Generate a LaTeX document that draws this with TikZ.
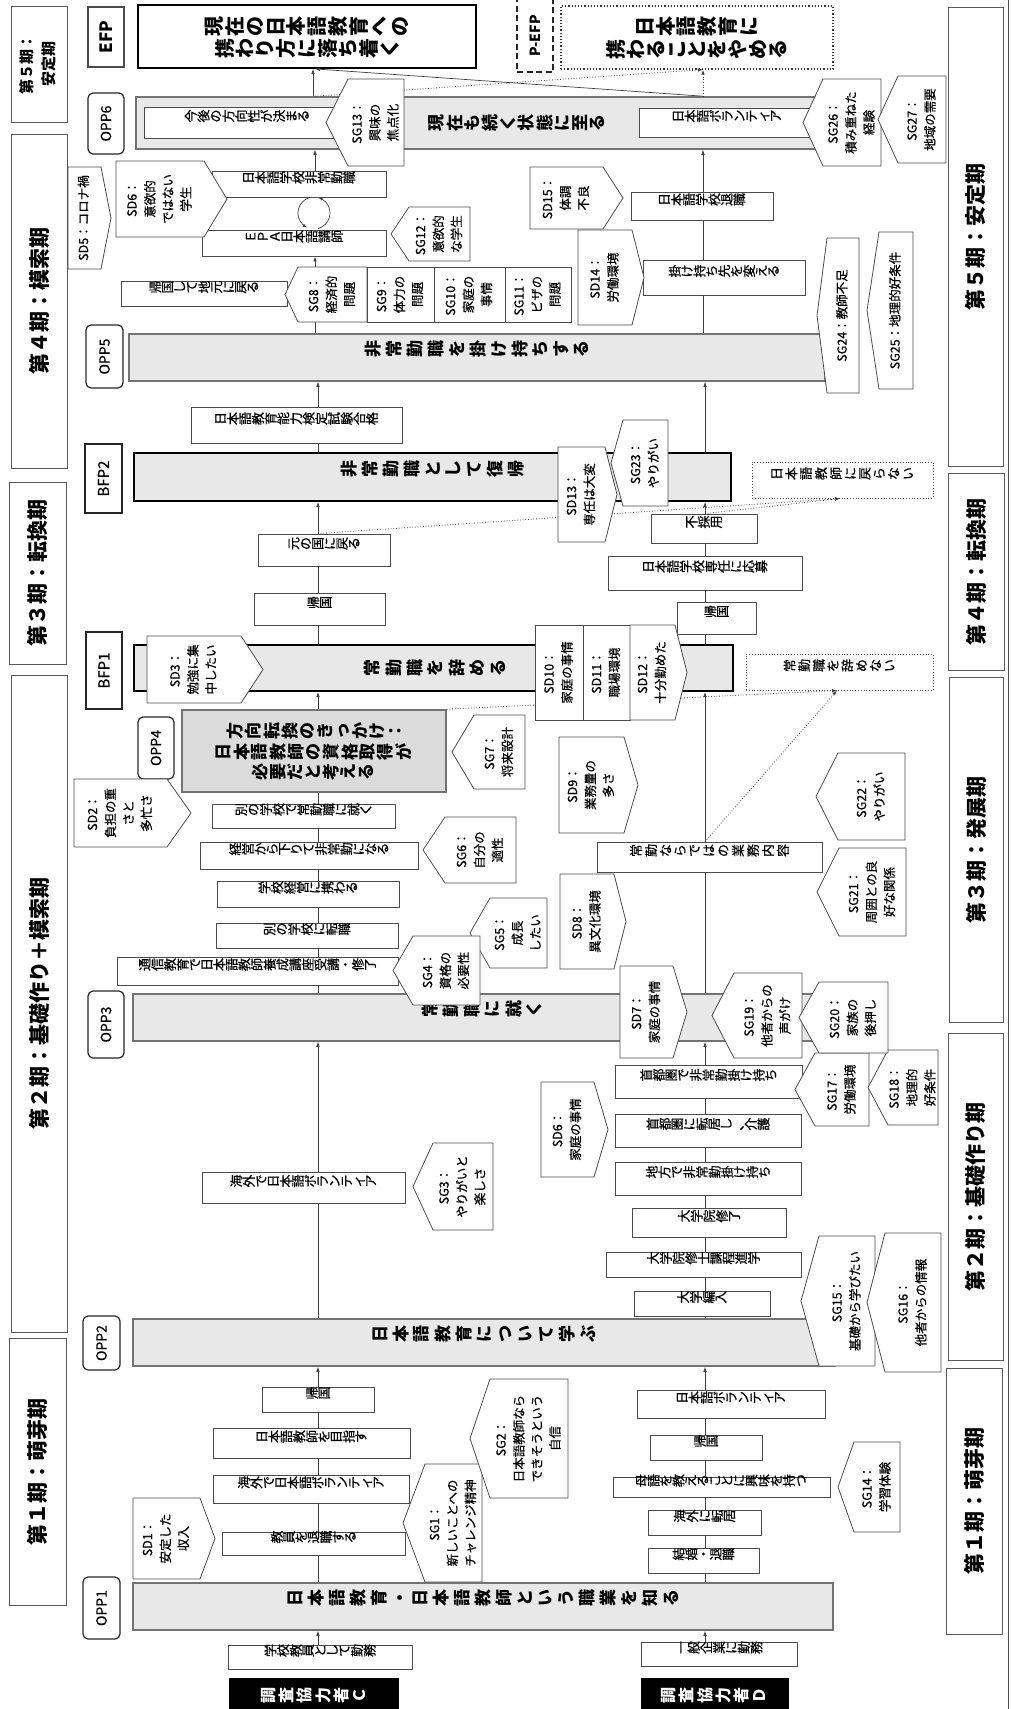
\documentclass[tikz,border=0pt]{standalone}
\usepackage{graphicx}
\usepackage{fontspec}
\setmainfont{Noto Sans CJK JP}
\newfontfamily\medfont{Noto Sans CJK JP}[FakeBold=0.5]
\usetikzlibrary{arrows.meta,fit}
\newcommand\fs[2]{\fontsize{#1}{#2}\selectfont}
\newlength\tgsp
\makeatletter
\newcommand\tgc[1]{\rotatebox{90}{\makebox[1em][c]{\vphantom{国}#1}}}
\newcommand\tg[2][0.7pt]{\setlength\tgsp{#1}\tg@first#2\@nil}
\def\tg@first#1{\tgc{#1}\tg@loop}
\def\tg@loop#1{\ifx#1\@nil\else\hspace{\tgsp}\tgc{#1}\expandafter\tg@loop\fi}
\makeatother
\newcommand\rt[1]{\rotatebox{90}{\begin{tabular}{@{}c@{}}#1\end{tabular}}}
\tikzset{
 per/.style={draw=black!65, line width=1pt, fill=white, inner sep=0pt},
 pertext/.style={rotate=90, font=\fs{21}{21}\bfseries, inner sep=0pt},
 lab/.style={draw=black!85, line width=1.2pt, rounded corners=5pt, fill=white, inner sep=0pt},
 labsq/.style={draw=black!85, line width=1.4pt, fill=white, inner sep=0pt},
 labtext/.style={rotate=90, font=\fs{14}{14}\medfont, inner sep=0pt},
 bar/.style={draw=black!55, line width=1.6pt, fill=black!9, inner sep=0pt, font=\fs{17}{17}\bfseries},
 bfp/.style={bar, draw=black, line width=1.8pt},
 box/.style={draw=black!70, line width=0.8pt, fill=white, inner sep=0pt, font=\fs{13}{13}\medfont},
 dbox/.style={box, dotted, line width=1pt},
 part/.style={fill=black, draw=black, inner sep=0pt},
 pent/.style={draw=black!70, line width=0.8pt, fill=white},
 ptext/.style={font=\fs{12.5}{18}\medfont, inner sep=0pt},
 rowtext/.style={inner sep=0pt},
 conn/.style={draw=black!75, line width=0.7pt},
 arr/.style={conn, -{Latex[length=5pt,width=3.6pt]}},
 darr/.style={arr, dotted, line width=0.9pt},
}
\newcommand\pentE[7]{%
  \draw[pent] (#2,#3) -- ({#4-#6},#3) -- (#4,{(#3+#5)/2}) -- ({#4-#6},#5) -- (#2,#5) -- cycle;
  \node[ptext] (#1) at ({(#2+#4-#6)/2},{(#3+#5)/2}) {\rt{#7}};}
\newcommand\pentW[7]{%
  \draw[pent] (#2,{(#3+#5)/2}) -- ({#2+#6},#3) -- (#4,#3) -- (#4,#5) -- ({#2+#6},#5) -- cycle;
  \node[ptext] (#1) at ({(#2+#6+#4)/2},{(#3+#5)/2}) {\rt{#7}};}
\newcommand\rectT[6]{%
  \node[box, fit={(#2,#3)(#4,#5)}] (#1) {};
  \node[ptext] (#1t) at (#1) {\rt{#6}};}
\begin{document}
\begin{tikzpicture}[x=1pt,y=-1pt]
\useasboundingbox (0,0) rectangle (1010,1709);
\draw[black!70, line width=1pt] (1008.5,0) -- (1008.5,1709);

% ---------- period boxes ----------
\node[per, fit={(11,6)(67,122)}] (l5) {};
\node[font=\fs{15}{22}\bfseries, inner sep=0pt] (l5t) at (l5) {\rt{第５期：\\安定期}};
\node[per, fit={(11,134)(67,468)}] (l4) {};
\node[pertext] (l4t) at (l4) {第４期：模索期};
\node[per, fit={(9,482)(66,664)}] (l3) {};
\node[pertext] (l3t) at (l3) {第３期：転換期};
\node[per, fit={(11,675)(67,1332)}] (l2) {};
\node[pertext] (l2t) at (l2) {第２期：基礎作り＋模索期};
\node[per, fit={(9,1338)(66,1605)}] (l1) {};
\node[pertext] (l1t) at (l1) {第１期：萌芽期};
\node[per, fit={(948,7)(1003,466)}] (r5) {};
\node[pertext] (r5t) at (r5) {第５期：安定期};
\node[per, fit={(948,473)(1004,670)}] (r4) {};
\node[pertext] (r4t) at (r4) {第４期：転換期};
\node[per, fit={(949,677)(1003,1022)}] (r3) {};
\node[pertext] (r3t) at (r3) {第３期：発展期};
\node[per, fit={(948,1033)(1003,1360)}] (r2) {};
\node[pertext] (r2t) at (r2) {第２期：基礎作り期};
\node[per, fit={(946,1368)(1002,1634)}] (r1) {};
\node[pertext] (r1t) at (r1) {第１期：萌芽期};

% ---------- participant labels ----------
\node[part, fit={(229,1678)(398,1712)}] (pc) {};
\node[text=white, font=\fs{16}{16}\bfseries, inner sep=0pt] (pct) at (314,1695) {\tg[3pt]{調査協力者Ｃ}};
\node[part, fit={(641,1678)(788,1712)}] (pd) {};
\node[text=white, font=\fs{16}{16}\bfseries, inner sep=0pt] (pdt) at (714,1695) {\tg[3pt]{調査協力者Ｄ}};

% ---------- OPP labels ----------
\node[labsq, line width=1.6pt, draw=black!70, fit={(88,7)(124,67)}] (efpl) {};
\node[labtext, font=\fs{17}{17}\bfseries] (efplt) at (efpl) {EFP};
\node[labsq, dash pattern=on 6pt off 3.5pt, line width=1.2pt, fit={(517,-6)(553,72)}] (pefpl) {};
\node[labtext, font=\fs{14}{14}\bfseries] (pefplt) at (535,36) {P-EFP};
\node[lab, fit={(88,93)(124,154)}] (o6l) {};
\node[labtext] (o6lt) at (o6l) {OPP6};
\node[lab, fit={(86,325)(123,388)}] (o5l) {};
\node[labtext] (o5lt) at (o5l) {OPP5};
\node[labsq, fit={(85,444)(122,513)}] (b2l) {};
\node[labtext, font=\fs{15}{15}\medfont] (b2lt) at (b2l) {BFP2};
\node[labsq, fit={(86,632)(122,709)}] (b1l) {};
\node[labtext, font=\fs{15}{15}\medfont] (b1lt) at (b1l) {BFP1};
\node[lab, fit={(138,717)(174,779)}] (o4l) {};
\node[labtext] (o4lt) at (o4l) {OPP4};
\node[lab, fit={(88,991)(124,1058)}] (o3l) {};
\node[labtext] (o3lt) at (o3l) {OPP3};
\node[lab, fit={(83,1316)(120,1370)}] (o2l) {};
\node[labtext] (o2lt) at (o2l) {OPP2};
\node[lab, fit={(83,1577)(120,1639)}] (o1l) {};
\node[labtext] (o1lt) at (o1l) {OPP1};

% ---------- end points ----------
\node[draw=black, line width=1.8pt, fill=white, inner sep=0pt, fit={(138,5)(476,68)}] (efp) {};
\node[rowtext, font=\fs{20}{20}\bfseries] (efpr1) at (307,26) {\tg[2pt]{現在の日本語教育への}};
\node[rowtext, font=\fs{20}{20}\bfseries] (efpr2) at (307,48) {\tg[2pt]{携わり方に落ち着く}};
\node[draw=black!80, dotted, line width=1.2pt, fill=white, inner sep=0pt, fit={(561,6)(833,69)}] (pefp) {};
\node[rowtext, font=\fs{20}{20}\bfseries] (pefpr1) at (697,26) {\tg[2pt]{日本語教育に}};
\node[rowtext, font=\fs{20}{20}\bfseries] (pefpr2) at (697,49) {\tg[2pt]{携わることをやめる}};

% ---------- bars ----------
\node[bar, fit={(136,97)(815,149)}] (opp6) {};
\node[bar, fit={(129,334)(825,381)}] (opp5) {\tg[5pt]{非常勤職を掛け持ちする}};
\node[bfp, fit={(134,453)(731,501)}] (bfp2) {\tg[5pt]{非常勤職として復帰}};
\node[bfp, fit={(134,645)(733,691)}] (bfp1) {};
\node[bar, fill=black!14, fit={(182,710)(446,792)}] (opp4) {};
\node[rowtext, font=\fs{17}{17}\bfseries] (opp4r1) at (315,731) {\tg[2pt]{方向転換のきっかけ：}};
\node[rowtext, font=\fs{17}{17}\bfseries] (opp4r2) at (314,752) {\tg[2pt]{日本語教師の資格取得が}};
\node[rowtext, font=\fs{17}{17}\bfseries] (opp4r3) at (313,772) {\tg[2pt]{必要だと考える}};
\node[bar, fit={(133,994)(831,1041)}] (opp3) {\tg[5pt]{常勤職に就く}};
\node[bar, fit={(133,1319)(835,1366)}] (opp2) {\tg[5pt]{日本語教育について学ぶ}};
\node[bar, fit={(133,1583)(833,1630)}] (opp1) {\tg[5pt]{日本語教育・日本語教師という職業を知る}};
\node[rowtext, font=\fs{17}{17}\bfseries] (opp6t) at (517,123) {\tg[2pt]{現在も続く状態に至る}};
\node[rowtext, font=\fs{17}{17}\bfseries] (bfp1t) at (435,668) {\tg[5pt]{常勤職を辞める}};

% ---------- connector x positions ----------
\coordinate (cx) at (318,0);
\coordinate (cu) at (315,0);
\coordinate (ce) at (313,0);
\coordinate (dx) at (705,0);
\coordinate (du) at (703,0);
\coordinate (tx1) at (837,0);
\coordinate (tx2) at (840,0);

% ---------- boxes (C) ----------
\node[box, fit={(228,1645)(412,1669)}] (c0) {\tg{学校教員として勤務}};
\node[box, fit={(222,1532)(405,1555)}] (c1) {\tg{教員を退職する}};
\node[box, fit={(213,1475)(409,1503)}] (c2) {\tg{海外で日本語ボランティア}};
\node[box, fit={(213,1428)(410,1458)}] (c3) {\tg{日本語教師を目指す}};
\node[box, fit={(262,1387)(374,1412)}] (c4) {\tg{帰国}};
\node[box, fit={(202,1172)(405,1203)}] (c5) {\tg{海外で日本語ボランティア}};
\node[box, fit={(117,957)(398,985)}] (c6) {\tg{通信教育で日本語教師養成講座受講・修了}};
\node[box, fit={(216,923)(398,948)}] (c7) {\tg{別の学校に転職}};
\node[box, fit={(217,881)(399,907)}] (c8) {\tg{学校経営に携わる}};
\node[box, fit={(200,842)(418,869)}] (c9) {\tg{経営から下りて非常勤になる}};
\node[box, fit={(212,804)(395,828)}] (c10) {\tg{別の学校で常勤職に就く}};
\node[box, fit={(254,593)(385,625)}] (c11) {\tg{帰国}};
\node[box, fit={(258,534)(390,566)}] (c12) {\tg{元の国に戻る}};
\node[box, fit={(191,407)(402,443)}] (c13) {\tg{日本語教育能力検定試験合格}};
\node[box, fit={(121,281)(287,306)}] (c14) {\tg{帰国して地元に戻る}};
\node[box, fit={(202,230)(386,256)}] (c15) {\tg{ＥＰＡ日本語講師}};
\node[box, fit={(212,171)(386,197)}] (c16) {\tg{日本語学校非常勤職}};
\node[box, fit={(144,107)(350,138)}] (c17) {\tg{今後の方向性が決まる}};

% ---------- boxes (D) ----------
\node[box, fit={(641,1642)(797,1666)}] (d0) {\tg{一般企業に勤務}};
\node[box, fit={(648,1548)(759,1573)}] (d1) {\tg{結婚・退職}};
\node[box, fit={(648,1510)(761,1535)}] (d2) {\tg{海外に転居}};
\node[box, fit={(613,1477)(830,1497)}] (d3) {\tg{母語を教えることに興味を持つ}};
\node[box, fit={(650,1435)(762,1460)}] (d4) {\tg{帰国}};
\node[box, fit={(637,1390)(825,1418)}] (d5) {\tg{日本語ボランティア}};
\node[box, fit={(634,1291)(770,1316)}] (d6) {\tg{大学編入}};
\node[box, fit={(606,1252)(801,1277)}] (d7) {\tg{大学院修士課程進学}};
\node[box, fit={(632,1208)(786,1237)}] (d8) {\tg{大学院修了}};
\node[box, fit={(615,1162)(801,1195)}] (d9) {\tg{地方で非常勤掛け持ち}};
\node[box, fit={(615,1114)(801,1147)}] (d10) {\tg{首都圏に転居し、介護}};
\node[box, fit={(615,1065)(802,1098)}] (d11) {\tg{首都圏で非常勤掛け持ち}};
\node[box, fit={(597,842)(822,872)}] (d12) {\tg[3pt]{常勤ならではの業務内容}};
\node[dbox, fit={(746,654)(933,690)}] (d13) {\tg[2.6pt]{常勤職を辞めない}};
\node[box, fit={(677,602)(756,634)}] (d14) {\tg{帰国}};
\node[box, fit={(608,556)(802,590)}] (d15) {\tg{日本語学校専任に応募}};
\node[box, fit={(651,514)(757,543)}] (d16) {\tg{不採用}};
\node[dbox, fit={(752,462)(933,498)}] (d17) {\tg[3pt]{日本語教師に戻らない}};
\node[box, fit={(643,260)(805,295)}] (d18) {\tg{掛け持ち先を変える}};
\node[box, fit={(631,192)(773,220)}] (d19) {\tg{日本語学校退職}};
\node[box, fit={(639,108)(815,137)}] (d20) {\tg{日本語ボランティア}};

% ---------- connectors ----------
\draw[arr] (c0.north -| cx) -- (opp1.south -| cx);
\foreach \a/\b in {opp1/c1, c1/c2, c2/c3, c3/c4, opp2/c5, opp3/c6, c6/c7, c7/c8, c8/c9, c9/c10, c10/opp4, bfp1/c11, c11/c12, bfp2/c13}
  \draw[conn] (\a.north -| cx) -- (\b.south -| cx);
\foreach \a/\b in {c4/opp2, c5/opp3, opp4/bfp1, c12/bfp2, c13/opp5}
  \draw[arr] (\a.north -| cx) -- (\b.south -| cx);
\draw[arr] (opp5.north -| cu) -- (c15.south -| cu);
\draw[arr] (c16.north -| cu) -- (opp6.south -| cu);
\draw[arr] (d0.north -| dx) -- (opp1.south -| dx);
\foreach \a/\b in {opp1/d1, d1/d2, d2/d3, d3/d4, d4/d5, opp2/d6, d6/d7, d7/d8, d8/d9, d9/d10, d10/d11, opp3/d12, bfp1/d14, d14/d15, d15/d16}
  \draw[conn] (\a.north -| dx) -- (\b.south -| dx);
\foreach \a/\b in {d5/opp2, d11/opp3, d12/bfp1, d16/bfp2, bfp2/opp5}
  \draw[arr] (\a.north -| dx) -- (\b.south -| dx);
\foreach \a/\b in {opp5/d18, d18/d19}
  \draw[conn] (\a.north -| du) -- (\b.south -| du);
\draw[arr] (d19.north -| du) -- (opp6.south -| du);
\draw[arr] (opp6.north -| ce) -- (efp.south -| ce);
\draw[arr] (opp6.north -| du) -- (efp.south -| cu);
\draw[darr] (opp6.north -| cu) -- (pefp.south -| du);
\draw[darr] (opp6.north -| du) -- (pefp.south -| du);
\draw[darr] (opp4.north east) -- (d13.south -| tx1);
\draw[darr] (d12.north -| dx) -- (d13.south -| tx1);
\draw[darr] (c12.north -| cx) -- (d17.south -| tx2);
\draw[darr] (d16.north -| dx) -- (d17.south -| tx2);
\draw[conn, -{Latex[length=4.5pt,width=3.4pt]}] plot[smooth, domain=-105:-245, samples=15] ({314+16*cos(\x)},{213+16*sin(\x)});
\draw[conn, -{Latex[length=4.5pt,width=3.4pt]}] plot[smooth, domain=75:-75, samples=15] ({314+16*cos(\x)},{213+16*sin(\x)});

% ---------- SD / SG (C) ----------
\pentE{sd1}{133}{1498}{215}{1579}{15}{SD1：\\安定した\\収入}
\pentW{sg1}{403}{1464}{482}{1582}{22}{SG1：\\新しいことへの\\チャレンジ精神}
\pentW{sg2}{470}{1379}{568}{1498}{20}{SG2：\\日本語教師なら\\できそうという\\自信}
\pentW{sg3}{413}{1143}{493}{1230}{20}{SG3：\\やりがいと\\楽しさ}
\pentW{sg5}{470}{898}{547}{968}{20}{SG5：\\成長\\したい}
\pentW{sg4}{393}{936}{480}{1005}{20}{SG4：\\資格の\\必要性}
\pentW{sg6}{423}{817}{516}{883}{22}{SG6：\\自分の\\適性}
\pentE{sd2}{74}{779}{191}{847}{24}{SD2：\\負担の重\\さと\\多忙さ}
\pentW{sg7}{452}{715}{525}{789}{22}{SG7：\\将来設計}
\pentE{sd3}{147}{636}{263}{703}{22}{SD3：\\勉強に集\\中したい}
\pentW{sg8}{285}{267}{367}{322}{13}{SG8：\\経済的\\問題}
\rectT{sg9}{367}{267}{434}{322}{SG9：\\体力の\\問題}
\rectT{sg10}{434}{267}{505}{322}{SG10：\\家庭の\\事情}
\rectT{sg11}{505}{267}{571}{322}{SG11：\\ビザの\\問題}
\pentE{sd6c}{116}{161}{227}{237}{23}{SD6：\\意欲的\\ではない\\学生}
\pentW{sg12}{391}{207}{470}{261}{18}{SG12：\\意欲的\\な学生}
\pentE{sd5}{68}{167}{111}{269}{10}{SD5：コロナ禍}
\pentW{sg13}{326}{79}{404}{166}{22}{SG13：\\興味の\\焦点化}

% ---------- SD / SG (D) ----------
\pentW{sg14}{838}{1442}{900}{1532}{16}{SG14：\\学習体験}
\pentW{sg15}{801}{1236}{875}{1366}{18}{SG15：\\基礎から学びたい}
\pentW{sg16}{867}{1233}{941}{1372}{18}{SG16：\\他者からの情報}
\pentE{sd6d}{541}{1082}{608}{1177}{14}{SD6：\\家庭の事情}
\pentW{sg17}{795}{1053}{869}{1126}{20}{SG17：\\労働環境}
\pentW{sg18}{868}{1050}{938}{1125}{20}{SG18：\\地理的\\好条件}
\pentE{sd7}{620}{966}{687}{1058}{14}{SD7：\\家庭の事情}
\pentW{sg19}{712}{973}{802}{1058}{22}{SG19：\\他者からの\\声がけ}
\pentW{sg20}{799}{982}{888}{1053}{20}{SG20：\\家族の\\後押し}
\pentE{sd8}{560}{874}{626}{969}{12}{SD8：\\異文化環境}
\pentE{sd9}{559}{737}{638}{833}{14}{SD9：\\業務量の\\多さ}
\pentW{sg21}{817}{848}{906}{936}{22}{SG21：\\周囲との良\\好な関係}
\pentW{sg22}{816}{753}{905}{840}{22}{SG22：\\やりがい}
\rectT{sd10}{535}{625}{583}{720}{SD10：\\家庭の事情}
\rectT{sd11}{583}{625}{630}{720}{SD11：\\職場環境}
\pentE{sd12}{630}{625}{687}{720}{12}{SD12：\\十分勤めた}
\pentW{sg23}{611}{420}{668}{506}{12}{SG23：\\やりがい}
\pentE{sd13}{558}{447}{617}{542}{12}{SD13：\\専任は大変}
\pentW{sg24}{817}{238}{859}{393}{10}{SG24：教師不足}
\pentW{sg25}{867}{232}{913}{389}{12}{SG25：地理的好条件}
\pentE{sd14}{578}{230}{644}{325}{12}{SD14：\\労働環境}
\pentE{sd15}{530}{167}{623}{229}{20}{SD15：\\体調\\不良}
\pentW{sg26}{803}{79}{881}{166}{20}{SG26：\\積み重ねた\\経験}
\pentW{sg27}{878}{76}{946}{163}{20}{SG27：\\地域の需要}
\end{tikzpicture}
\end{document}
